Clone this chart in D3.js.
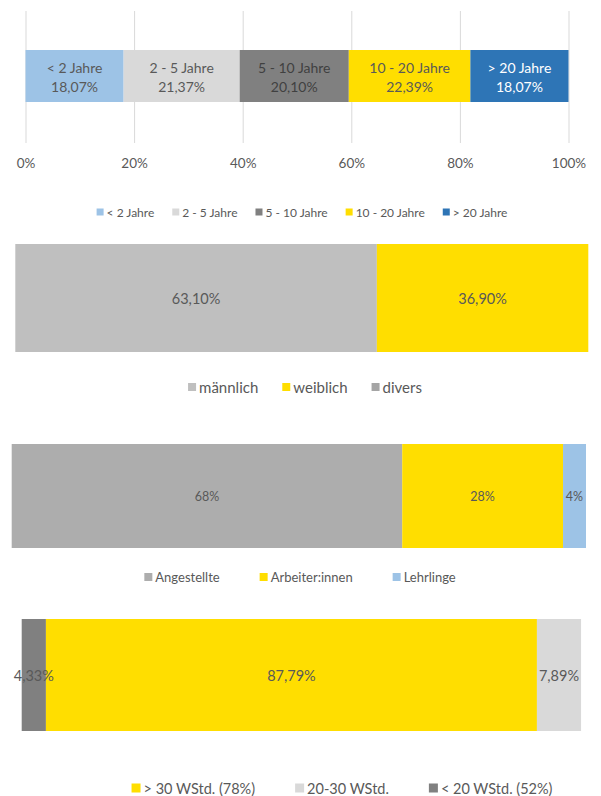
<!DOCTYPE html>
<html>
<head>
<meta charset="utf-8">
<script src="https://cdn.jsdelivr.net/npm/d3@7"></script>
<style>
  body { margin: 0; background: #fff; }
  text { font-family: Lato, "Open Sans", sans-serif; fill: #595959; }
</style>
</head>
<body>
<div id="chart"></div>
<script>
// --- data ---
var tenureCats = ["< 2 Jahre", "2 - 5 Jahre", "5 - 10 Jahre", "10 - 20 Jahre", "> 20 Jahre"];
var tenureVals = [18.07, 21.37, 20.10, 22.39, 18.07];
var tenureLabels = ["18,07%", "21,37%", "20,10%", "22,39%", "18,07%"];
var tenureTicks = [0, 20, 40, 60, 80, 100];

var genderCats = ["männlich", "weiblich", "divers"];
var genderVals = [63.10, 36.90, 0];
var genderLabels = ["63,10%", "36,90%", ""];

var jobCats = ["Angestellte", "Arbeiter:innen", "Lehrlinge"];
var jobVals = [68, 28, 4];
var jobLabels = ["68%", "28%", "4%"];

// bar order left->right, legend order differs
var hoursCats = ["< 20 WStd. (52%)", "> 30 WStd. (78%)", "20-30 WStd."];
var hoursVals = [4.33, 87.79, 7.89];
var hoursLabels = ["4,33%", "87,79%", "7,89%"];
var hoursLegend = ["> 30 WStd. (78%)", "20-30 WStd.", "< 20 WStd. (52%)"];

var W = 601, H = 796;
var svg = d3.select("#chart").append("svg").attr("width", W).attr("height", H);

// draws one 100% stacked horizontal bar
var drawBar = function(cfg){
  var g = svg.append("g");
  var x = d3.scaleLinear().domain([0, 100]).range([cfg.x0, cfg.x1]);
  var row = {};
  cfg.cats.forEach(function(c, i){ row[c] = cfg.vals[i]; });
  var series = d3.stack().keys(cfg.cats)([row]);

  if (cfg.ticks) {
    var axis = d3.axisBottom(x).tickValues(cfg.ticks)
        .tickSize(-(cfg.gridBottom - cfg.gridTop))
        .tickFormat(function(d){ return d + "%"; });
    var ax = g.append("g").attr("transform", "translate(0," + cfg.gridBottom + ")").call(axis);
    ax.select(".domain").remove();
    ax.selectAll(".tick line").attr("stroke", "#d9d9d9");
    ax.selectAll(".tick text").attr("y", 15).style("font-size", "13.5px").attr("fill", "#595959");
  }

  g.selectAll("rect.seg").data(series).enter().append("rect")
      .attr("class", "seg")
      .attr("x", function(d){ return x(d[0][0]); })
      .attr("width", function(d){ return x(d[0][1]) - x(d[0][0]); })
      .attr("y", cfg.y0)
      .attr("height", cfg.y1 - cfg.y0)
      .attr("fill", function(d, i){ return cfg.colors[i]; });

  var cy = (cfg.y0 + cfg.y1) / 2;
  series.forEach(function(s, i){
    if (!cfg.labels[i]) return;
    var cx = (x(s[0][0]) + x(s[0][1])) / 2;
    var col = cfg.textColors ? cfg.textColors[i] : "#595959";
    if (cfg.catInLabel) {
      g.append("text").attr("x", cx).attr("y", cy - 9).attr("text-anchor", "middle")
        .attr("dominant-baseline", "central").style("font-size", cfg.labelSize + "px")
        .style("fill", col).text(cfg.cats[i]);
      g.append("text").attr("x", cx).attr("y", cy + 10).attr("text-anchor", "middle")
        .attr("dominant-baseline", "central").style("font-size", cfg.labelSize + "px")
        .style("fill", col).text(cfg.labels[i]);
    } else {
      g.append("text").attr("x", cx).attr("y", cy).attr("text-anchor", "middle")
        .attr("dominant-baseline", "central").style("font-size", cfg.labelSize + "px")
        .style("fill", col).text(cfg.labels[i]);
    }
  });

  // legend
  var lg = svg.append("g");
  var items = cfg.legend || cfg.cats;
  var cursor = 0;
  var m = cfg.legendMarker;
  items.forEach(function(name, i){
    var ci = cfg.cats.indexOf(name);
    var it = lg.append("g").attr("transform", "translate(" + cursor + ",0)");
    it.append("rect").attr("x", 0).attr("y", -m / 2).attr("width", m).attr("height", m)
      .attr("fill", cfg.colors[ci]);
    var t = it.append("text").attr("x", m + 3).attr("y", 0).attr("dominant-baseline", "central")
      .style("font-size", cfg.legendSize + "px").text(name);
    var w = m + 3 + t.node().getComputedTextLength();
    cursor += w + cfg.legendGap;
  });
  var total = cursor - cfg.legendGap;
  lg.attr("transform", "translate(" + (cfg.legendCenter - total / 2) + "," + cfg.legendY + ")");
};

drawBar({
  cats: tenureCats, vals: tenureVals, labels: tenureLabels, ticks: tenureTicks,
  x0: 25.5, x1: 568.5, y0: 50, y1: 102, gridTop: 11, gridBottom: 143,
  colors: ["#9dc3e6", "#d9d9d9", "#808080", "#ffde00", "#2e75b6"],
  textColors: ["#595959", "#595959", "#404040", "#595959", "#ffffff"],
  catInLabel: true, labelSize: 14,
  legendY: 212, legendCenter: 302, legendSize: 12, legendMarker: 7, legendGap: 18
});

drawBar({
  cats: genderCats, vals: genderVals, labels: genderLabels,
  x0: 15.3, x1: 588.3, y0: 244, y1: 352,
  colors: ["#bfbfbf", "#ffde00", "#a5a5a5"],
  labelSize: 14.5,
  legendY: 387, legendCenter: 305, legendSize: 15, legendMarker: 8, legendGap: 24
});

drawBar({
  cats: jobCats, vals: jobVals, labels: jobLabels,
  x0: 11.7, x1: 586, y0: 444, y1: 548,
  colors: ["#adadad", "#ffde00", "#9dc3e6"],
  labelSize: 12.5,
  legendY: 577, legendCenter: 300, legendSize: 13, legendMarker: 8, legendGap: 40
});

drawBar({
  cats: hoursCats, vals: hoursVals, labels: hoursLabels, legend: hoursLegend,
  x0: 21.7, x1: 581, y0: 619, y1: 731,
  colors: ["#808080", "#ffde00", "#d9d9d9"],
  labelSize: 14.5,
  legendY: 788, legendCenter: 342, legendSize: 14.5, legendMarker: 9, legendGap: 40
});
</script>
</body>
</html>
